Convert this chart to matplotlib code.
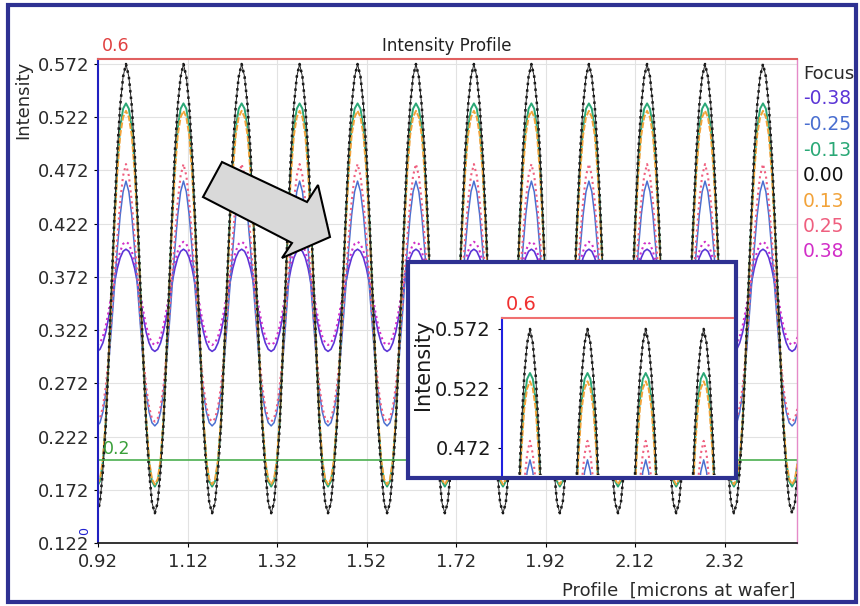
import numpy as np
import matplotlib
matplotlib.use("Agg")
import matplotlib.pyplot as plt
from matplotlib.patches import Rectangle, Polygon

plt.rcParams['font.family'] = ['DejaVu Sans']

# Focus settings and their colours
focus_labels = ['-0.38', '-0.25', '-0.13', '0.00', '0.13', '0.25', '0.38']
focus_colors = ['#5b35d6', '#4a6fd0', '#2aa876', '#111111', '#f2a33a', '#ef5f7f', '#d22fc8']

# trough positions (microns)
trough_x = [0.918, 1.047, 1.175, 1.307, 1.434, 1.566, 1.695, 1.825,
            1.952, 2.082, 2.212, 2.341, 2.471, 2.600]

# half-period intensity samples, trough -> peak (11 points each)
prof_m038 = [0.302, 0.304, 0.310, 0.320, 0.334, 0.350, 0.366, 0.380, 0.390, 0.396, 0.398]
prof_m025 = [0.232, 0.235, 0.245, 0.263, 0.290, 0.325, 0.362, 0.398, 0.430, 0.452, 0.462]
prof_m013 = [0.175, 0.180, 0.198, 0.236, 0.295, 0.360, 0.425, 0.478, 0.512, 0.530, 0.535]
prof_000 = [0.150, 0.160, 0.190, 0.232, 0.295, 0.362, 0.430, 0.490, 0.533, 0.560, 0.572]
prof_p013 = [0.177, 0.182, 0.200, 0.238, 0.296, 0.358, 0.420, 0.470, 0.505, 0.522, 0.528]
prof_p025 = [0.236, 0.239, 0.250, 0.269, 0.297, 0.333, 0.371, 0.409, 0.443, 0.467, 0.478]
prof_p038 = [0.308, 0.310, 0.316, 0.326, 0.340, 0.356, 0.372, 0.386, 0.396, 0.403, 0.405]
profiles = [prof_m038, prof_m025, prof_m013, prof_000, prof_p013, prof_p025, prof_p038]

styles = ['-', '-', '-', ':', (0, (3, 1)), ':', ':']
widths = [1.2, 1.1, 1.4, 1.8, 1.4, 1.5, 1.5]
draw_order = [0, 6, 1, 5, 2, 4, 3]

threshold_low = 0.2

yticks = [0.122, 0.172, 0.222, 0.272, 0.322, 0.372, 0.422, 0.472, 0.522, 0.572]
xticks = [0.92, 1.12, 1.32, 1.52, 1.72, 1.92, 2.12, 2.32]
inset_yticks = [0.472, 0.522, 0.572]


def build_curve(half):
    half = np.array(half)
    t = np.linspace(0, 1, len(half))
    xs, ys = [], []
    for a, b in zip(trough_x[:-1], trough_x[1:]):
        hp = (b - a) / 2
        xs.extend(a + t[:-1] * hp)
        ys.extend(half[:-1])
        xs.extend(a + hp + t[:-1] * hp)
        ys.extend(half[::-1][:-1])
    xs.append(trough_x[-1])
    ys.append(half[0])
    return np.array(xs), np.array(ys)


fig = plt.figure(figsize=(8.6, 6.06), dpi=100)
ax = fig.add_axes([98 / 860, 1 - 543 / 606, (797 - 98) / 860, (543 - 59) / 606])

for i in draw_order:
    x, y = build_curve(profiles[i])
    ax.plot(x, y, color=focus_colors[i], ls=styles[i], lw=widths[i])
# thin solid outline of the best-focus curve
x0, y0 = build_curve(prof_000)
ax.plot(x0, y0, color='#222222', lw=0.7)

ax.axhline(threshold_low, color='#4caf50', lw=1.2)

ax.set_xlim(0.92, 2.482)
ax.set_ylim(0.122, 0.5767)
ax.set_xticks(xticks)
ax.set_xticklabels(['%.2f' % v for v in xticks])
ax.set_yticks(yticks)
ax.set_yticklabels(['%.3f' % v for v in yticks])
ax.tick_params(labelsize=13, labelcolor='#2a2a2a', length=3, pad=3)
ax.tick_params(axis='x', pad=4)
ax.grid(True, color='#e2e2e2', lw=0.8)
ax.set_axisbelow(True)
ax.spines['left'].set_color('#2020c0')
ax.spines['left'].set_linewidth(1.5)
ax.spines['bottom'].set_color('#111111')
ax.spines['bottom'].set_linewidth(1.2)
ax.spines['top'].set_color('#e06060')
ax.spines['top'].set_linewidth(1.5)
ax.spines['right'].set_color('#e58ac8')
ax.spines['right'].set_linewidth(1.0)

fig.text(447 / 860, 1 - 46 / 606, 'Intensity Profile', fontsize=12, color='#222222',
         ha='center', va='center')
fig.text(102 / 860, 1 - 46 / 606, '0.6', fontsize=12.5, color='#e04040', ha='left', va='center')
fig.text(103 / 860, 1 - 449 / 606, '0.2', fontsize=12.5, color='#3aa03a', ha='left', va='center')
fig.text(23 / 860, 1 - 100 / 606, 'Intensity', fontsize=13, color='#2a2a2a', rotation=90,
         ha='center', va='center')
fig.text(795 / 860, 1 - 591 / 606, 'Profile  [microns at wafer]', fontsize=13,
         color='#2a2a2a', ha='right', va='center')
fig.text(85 / 860, 1 - 531 / 606, '0', fontsize=9, color='#2020d0', rotation=90,
         ha='center', va='center')

# legend as coloured text
fig.text(803 / 860, 1 - 74 / 606, 'Focus', fontsize=13, color='#2a2a2a', ha='left', va='center')
for k, (lab, col) in enumerate(zip(focus_labels, focus_colors)):
    fig.text(803 / 860, 1 - (99 + k * 25.5) / 606, lab, fontsize=13.5, color=col,
             ha='left', va='center')

# gray arrow
arrow_px = [(203, 197), (222, 162), (307, 202), (318, 185), (330, 237), (282, 258), (292, 243)]
fig.patches.append(Polygon([(px / 860, 1 - py / 606) for px, py in arrow_px], closed=True,
                           transform=fig.transFigure, facecolor='#d9d9d9',
                           edgecolor='black', lw=1.5, zorder=2))

# inset box
fig.patches.append(Rectangle((408 / 860, 1 - 478 / 606), (736 - 408) / 860, (478 - 262) / 606,
                             transform=fig.transFigure, facecolor='white',
                             edgecolor='#2e3192', lw=3, zorder=2))

axi = fig.add_axes([502 / 860, 1 - 475 / 606, (733 - 502) / 860, (475 - 318) / 606])
axi.set_zorder(3)
for i in draw_order:
    x, y = build_curve(profiles[i])
    axi.plot(x, y, color=focus_colors[i], ls=styles[i], lw=widths[i])
axi.plot(x0, y0, color='#222222', lw=0.7)
axi.set_xlim(1.826, 2.342)
axi.set_ylim(0.4493, 0.5812)
axi.set_xticks([])
axi.set_yticks(inset_yticks)
axi.set_yticklabels(['%.3f' % v for v in inset_yticks])
axi.tick_params(labelsize=14, labelcolor='#1a1a1a', length=3, pad=5)
axi.spines['left'].set_color('#2020e0')
axi.spines['left'].set_linewidth(1.5)
axi.spines['top'].set_color('#f07070')
axi.spines['top'].set_linewidth(1.5)
axi.spines['right'].set_visible(False)
axi.spines['bottom'].set_visible(False)
fig.text(423 / 860, 1 - 365 / 606, 'Intensity', fontsize=15, color='#1a1a1a', rotation=90,
         ha='center', va='center', zorder=4)
fig.text(506 / 860, 1 - 305 / 606, '0.6', fontsize=14, color='#f03030', ha='left',
         va='center', zorder=4)

# outer frame
fig.patches.append(Rectangle((8 / 860, 1 - 602 / 606), (856 - 8) / 860, (602 - 5) / 606,
                             transform=fig.transFigure, fill=False,
                             edgecolor='#2e3192', lw=3, zorder=5))

fig.savefig('out.png', dpi=100)
plt.close()
